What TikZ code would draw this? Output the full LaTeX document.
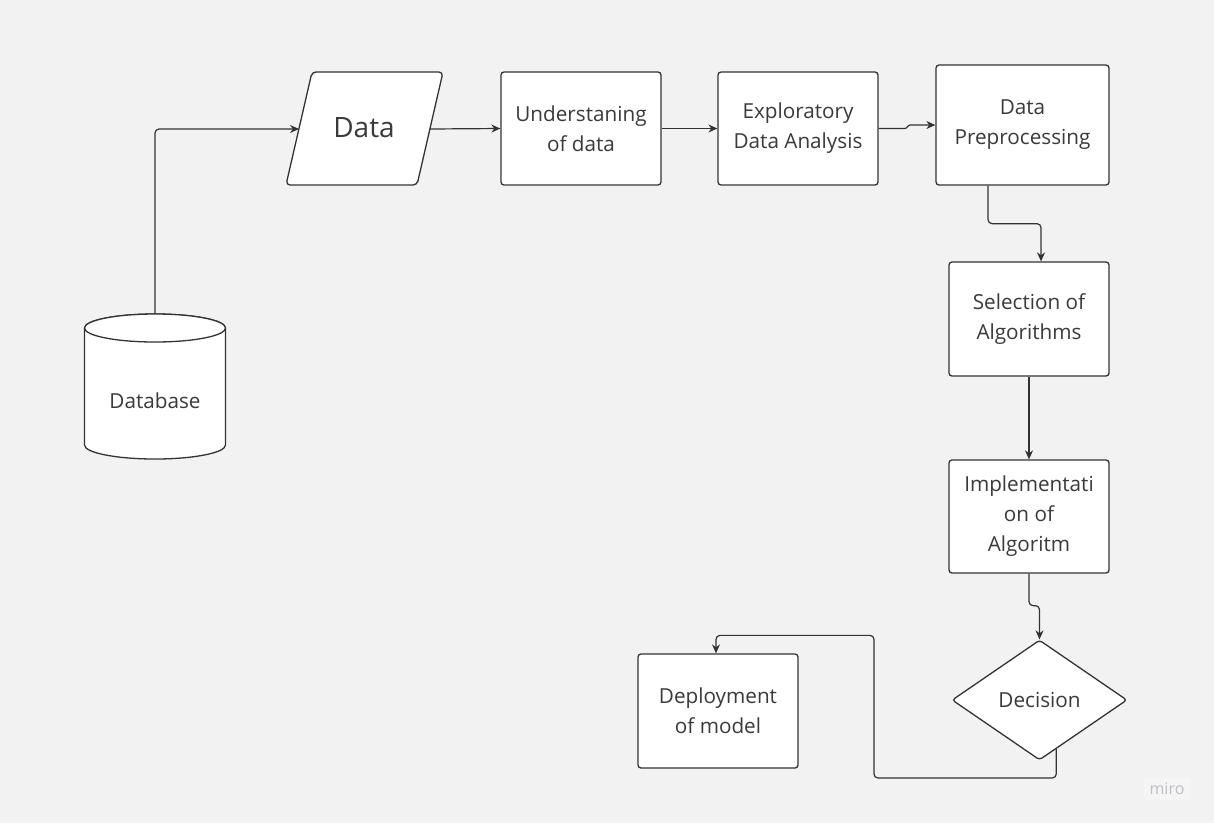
\documentclass[tikz,border=0pt]{standalone}
\usepackage{fontspec}
\setmainfont{Open Sans}
\usetikzlibrary{arrows.meta,shapes.geometric,calc}
\definecolor{bg}{HTML}{F2F2F2}
\definecolor{ink}{HTML}{333333}
\definecolor{txt}{HTML}{3A3A3A}
\definecolor{mirotxt}{HTML}{BEBEC4}
\definecolor{mirobg}{HTML}{F5F5F5}
\begin{document}
\begin{tikzpicture}[x=1pt,y=-1pt,
  lbl/.style={align=center, font=\fontsize{20.7}{30}\selectfont, text=txt, inner sep=0pt},
  box/.style={lbl, draw=ink, line width=1.3pt, fill=white, rounded corners=3pt, minimum width=160pt, minimum height=113pt},
  conn/.style={draw=ink, line width=1.2pt, rounded corners=4pt, -{Stealth[length=9pt,width=8pt]}},
  shp/.style={draw=ink, line width=1.3pt, fill=white}
]
\fill[bg] (0,0) rectangle (1214,823);
\useasboundingbox (0,0) rectangle (1214,823);

% Database cylinder
\path[shp] (84.5,328) -- (84.5,445) arc[start angle=180, end angle=0, x radius=70.5, y radius=14] -- (225.5,328) arc[start angle=0, end angle=-180, x radius=70.5, y radius=14] -- cycle;
\draw[shp] (155,328) ellipse[x radius=70.5, y radius=14];
\node[lbl] (db) at (155,401) {Database};
\coordinate (dbtop) at (155,314);

% Data parallelogram
\path[shp, rounded corners=4pt] (312,72) -- (443,72) -- (417,185) -- (286,185) -- cycle;
\node[lbl, font=\fontsize{28}{34}\selectfont] (data) at (364,128) {Data};
\coordinate (dataL) at (299,129);
\coordinate (dataR) at (430,129);

% Boxes
\node[box] (under) at (581,128.5) {Understaning\\of data};
\node[box] (eda) at (798,128.5) {Exploratory\\Data Analysis};
\node[box, minimum width=173pt, minimum height=120pt] (prep) at (1022.5,125) {Data\\Preprocessing};
\node[box, minimum height=114pt] (sel) at (1029,319) {Selection of\\Algorithms};
\node[box] (impl) at (1029,516.5) {Implementati\\on of\\Algoritm};
\node[lbl, shape=diamond, draw=ink, line width=1.3pt, fill=white, rounded corners=3pt, minimum width=175pt, minimum height=120pt, aspect=1.46] (dec) at (1039.5,700) {Decision};
\node[box, minimum height=114pt] (dep) at (718,711) {Deployment\\of model};

% miro mark
\node[fill=mirobg, rounded corners=3pt, text=mirotxt, font=\fontsize{16}{16}\selectfont, inner xsep=6pt, inner ysep=5pt] (miro) at (1167,789) {miro};

% Connectors
\draw[conn] (dbtop) |- (dataL);
\draw[conn] (dataR) -- (under.west);
\draw[conn] (under.east) -- (eda.west);
\draw[conn, rounded corners=1pt] (eda.east) -- (906,128.5) -- (909,125) -- (prep.west);
\draw[conn] ([xshift=-34.5pt]prep.south) -- ++(0,38) -| ([xshift=12pt]sel.north);
\draw[conn] (sel.south) -- (impl.north);
\draw[conn] (impl.south) -- ++(0,32) -| (dec.north);
\coordinate (decS) at ($(dec.south)!0.19!(dec.east)$);
\draw[conn] (decS) |- (874,778) |- ([xshift=-2pt,yshift=18pt]dep.north) -- ([xshift=-2pt]dep.north);
\end{tikzpicture}
\end{document}
